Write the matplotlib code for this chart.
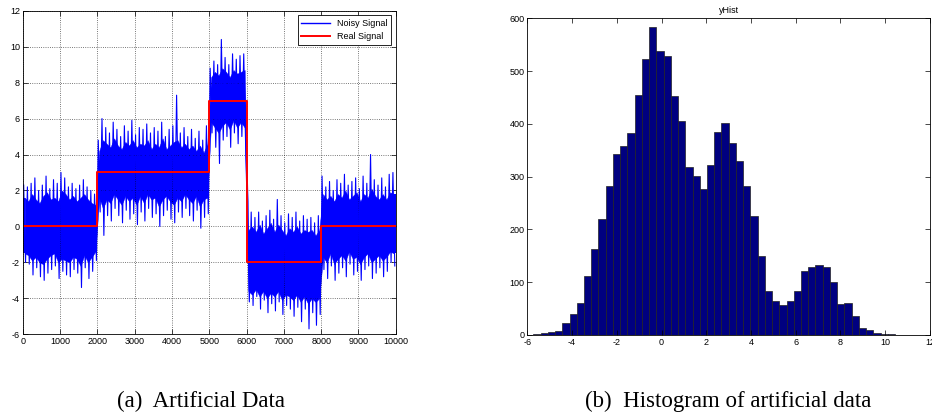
import numpy as np
import matplotlib.pyplot as plt

# ---- (a) artificial data: piecewise constant signal + noise envelope ----
breaks = [0, 2000, 5000, 6000, 8000, 10000]
levels = [0, 3, 7, -2, 0]
bin_step = 100  # envelope values read every 100 samples

# where the noisy band becomes solid (inner edge)
inner_top = [
    1.6, 1.4, 1.8, 1.5, 1.3, 1.7, 1.9, 1.5, 1.6, 1.4, 2.0, 1.8, 1.5, 1.7, 1.4, 1.6, 1.8, 1.5, 1.3, 1.2,
    4.2, 4.8, 4.6, 4.4, 4.9, 4.5, 4.3, 4.7, 4.5, 4.8, 4.4, 4.6, 4.5, 4.8, 4.3, 4.6, 4.4, 4.9, 4.3, 4.5,
    4.7, 4.8, 4.4, 4.6, 4.3, 4.5, 4.2, 4.5, 4.1, 4.6,
    8.3, 8.6, 8.4, 8.8, 8.6, 8.3, 8.7, 8.5, 8.6, 8.7,
    -0.2, 0.0, -0.3, 0.1, -0.4, -0.1, 0.2, -0.3, 0.1, -0.2, -0.5, -0.1, -0.3, 0.0, -0.4, -0.2, -0.3, -0.2, -0.5, -0.2,
    1.8, 1.5, 1.7, 1.4, 1.8, 1.6, 2.0, 1.5, 1.7, 1.9, 1.4, 1.8, 1.6, 2.1, 1.7, 1.5, 1.8, 1.5, 1.9, 1.8,
]
inner_bot = [
    -1.5, -1.6, -1.9, -1.7, -2.0, -2.1, -1.8, -1.6, -1.5, -2.0, -1.8, -1.9, -2.0, -1.7, -1.8, -2.2, -1.6, -2.0, -1.7, -1.4,
    1.6, 1.0, 1.5, 1.3, 1.8, 1.5, 1.2, 1.7, 1.4, 1.6, 1.2, 1.7, 1.3, 1.8, 1.5, 1.6, 1.1, 1.5, 1.7, 1.4,
    1.2, 1.6, 1.4, 1.8, 1.5, 1.3, 1.7, 1.1, 1.5, 1.6,
    5.8, 5.5, 5.2, 5.6, 5.8, 5.4, 5.9, 5.5, 5.8, 5.5,
    -3.6, -3.8, -3.5, -3.9, -3.6, -4.0, -3.7, -3.9, -3.6, -4.1, -3.8, -3.9, -4.1, -3.8, -4.2, -3.9, -4.3, -4.0, -4.2, -4.0,
    -1.7, -2.0, -1.5, -2.1, -1.8, -1.6, -1.9, -1.4, -1.8, -1.7, -2.1, -1.7, -1.5, -2.0, -1.8, -1.6, -1.9, -1.7, -1.4, -1.5,
]
# outermost spikes
spike_top = [
    2.3, 2.2, 2.4, 2.7, 2.0, 2.3, 2.8, 2.1, 2.6, 2.4, 3.0, 2.7, 2.2, 2.4, 2.1, 2.3, 2.6, 2.2, 2.0, 1.8,
    4.8, 6.0, 5.5, 5.2, 5.8, 5.4, 5.0, 5.6, 5.3, 5.9, 5.1, 5.5, 5.4, 5.7, 5.2, 5.5, 5.3, 5.8, 5.0, 5.4,
    5.6, 7.3, 5.2, 5.5, 5.0, 5.4, 4.9, 5.3, 4.8, 5.6,
    8.8, 9.2, 9.0, 10.4, 9.4, 9.0, 9.6, 9.3, 9.5, 9.6,
    0.4, 0.8, 0.5, 0.8, 0.3, 0.6, 0.9, 0.4, 1.5, 0.6, 0.2, 0.7, 0.5, 0.8, 0.3, 0.6, 0.4, 0.5, 0.2, 0.6,
    2.8, 2.2, 2.5, 2.0, 2.6, 2.4, 2.9, 2.3, 2.5, 2.7, 2.1, 2.8, 2.4, 4.0, 2.6, 2.3, 2.7, 2.2, 2.9, 3.0,
]
spike_bot = [
    -2.0, -2.1, -2.7, -2.3, -2.8, -3.0, -2.6, -2.4, -2.2, -2.9, -2.5, -2.7, -2.8, -2.4, -2.6, -3.4, -2.3, -2.9, -2.5, -1.9,
    0.8, -0.5, 0.6, 0.3, 1.0, 0.6, 0.2, 0.9, 0.4, 0.7, 0.1, 0.8, 0.3, 1.0, 0.5, 0.7, 0.0, 0.6, 0.9, 0.4,
    0.2, 0.8, 0.5, 1.0, 0.6, 0.3, 0.9, -0.1, 0.5, 0.7,
    5.2, 4.4, 3.5, 4.8, 5.0, 4.4, 5.2, 4.6, 5.0, 4.6,
    -4.2, -4.4, -3.9, -4.6, -4.1, -4.8, -4.3, -4.7, -4.2, -4.9, -4.4, -4.6, -5.0, -4.5, -5.3, -4.6, -5.7, -4.8, -5.5, -4.9,
    -2.4, -2.9, -2.2, -3.0, -2.6, -2.3, -2.8, -2.1, -2.7, -2.5, -3.0, -2.4, -2.2, -2.9, -2.6, -2.3, -2.8, -2.5, -2.0, -2.2,
]

# ---- (b) histogram of the data, 50 bins ----
hist_min, hist_max = -5.73, 10.44
hist_counts = [
    2, 3, 5, 8, 22, 40, 60, 111, 163, 220,
    282, 343, 358, 382, 455, 523, 584, 538, 529, 453,
    406, 318, 302, 276, 322, 385, 402, 364, 330, 282,
    226, 150, 84, 64, 57, 64, 83, 122, 129, 132,
    129, 100, 58, 60, 36, 13, 10, 4, 2, 1,
]

plt.rcParams['font.family'] = ['Liberation Sans', 'DejaVu Sans']
plt.rcParams['font.size'] = 6.5
plt.rcParams['axes.unicode_minus'] = False

fig = plt.figure(figsize=(9.32, 4.13), dpi=100)

def matlab_axes(ax):
    ax.tick_params(direction='in', top=True, right=True, length=3.5, width=0.5,
                   labelsize=6.5, pad=2)
    for s in ax.spines.values():
        s.set_linewidth(0.6)

# left panel
ax1 = fig.add_axes([0.0244, 0.1906, 0.4002, 0.7835])
n = len(spike_top)
xc = np.arange(n) * bin_step + bin_step / 2
ax1.fill_between(xc, inner_bot, inner_top, color='blue', lw=0.3, edgecolor='blue')
# hold the band flat up to the axes edges
ax1.fill_between([0, xc[0]], inner_bot[0], inner_top[0], color='blue', lw=0)
ax1.fill_between([xc[-1], 10000], inner_bot[-1], inner_top[-1], color='blue', lw=0)

xs, ys = [], []
for i in range(n):
    xs += [i * bin_step + 25, i * bin_step + 75]
    ys += [spike_top[i], spike_bot[i]]
ax1.plot(xs, ys, color='blue', lw=0.8, label='Noisy Signal')
ax1.step(breaks, levels + [levels[-1]], where='post', color='red', lw=1.4,
         label='Real Signal')

ax1.set_xlim(0, 10000)
ax1.set_ylim(-6, 12)
ax1.set_xticks(range(0, 10001, 1000))
ax1.set_yticks(range(-6, 13, 2))
ax1.grid(True, linestyle=':', color='black', lw=0.6, alpha=0.7)
matlab_axes(ax1)
leg = ax1.legend(loc='upper right', fontsize=6.5, fancybox=False, framealpha=1,
                 borderaxespad=0.5, handlelength=3.2, edgecolor='black')
leg.get_frame().set_linewidth(0.6)
leg.get_lines()[0].set_linewidth(1.0)

# right panel
ax2 = fig.add_axes([0.5658, 0.1889, 0.432, 0.7668])
edges = np.linspace(hist_min, hist_max, len(hist_counts) + 1)
ax2.bar(edges[:-1], hist_counts, width=np.diff(edges), align='edge',
        color='#000080', edgecolor='#222222', linewidth=0.5)
ax2.set_xlim(-6, 12)
ax2.set_ylim(0, 600)
ax2.set_xticks(range(-6, 13, 2))
ax2.set_yticks(range(0, 601, 100))
ax2.set_title('yHist', fontsize=6.5, pad=4)
matlab_axes(ax2)

fig.text(0.2157, 0.0145, '(a)  Artificial Data', family=['Liberation Serif'],
         fontsize=16.5, ha='center', va='baseline')
fig.text(0.781, 0.0145, '(b)  Histogram of artificial data', family=['Liberation Serif'],
         fontsize=16.5, ha='center', va='baseline')

fig.savefig('out.png', dpi=100)
